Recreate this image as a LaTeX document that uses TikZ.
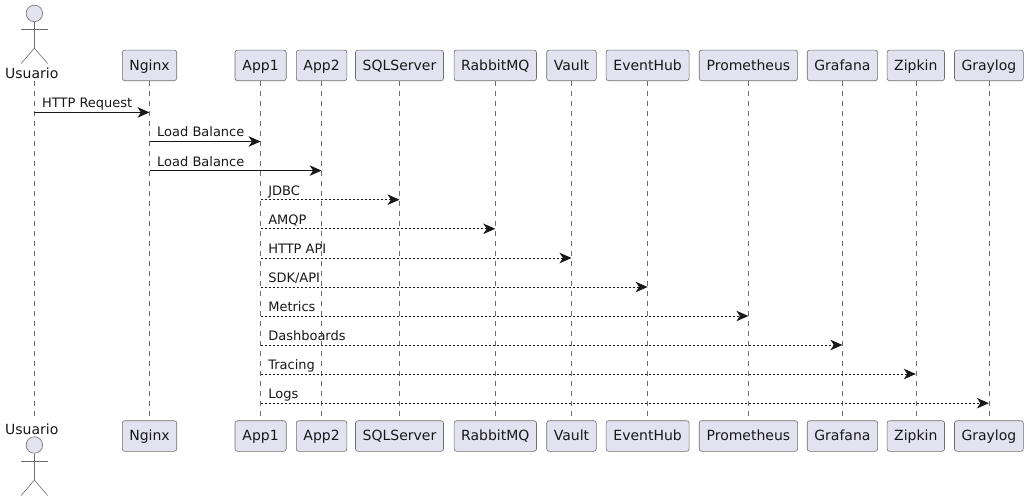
\documentclass[tikz,border=0pt]{standalone}
\usepackage{fontspec}
\setmainfont{DejaVu Sans}
\usetikzlibrary{arrows.meta}
\definecolor{boxfill}{HTML}{E2E2F0}
\definecolor{ink}{HTML}{181818}
\definecolor{thin}{HTML}{6E6E6E}
\tikzset{
  part/.style={draw=thin,line width=0.6pt,fill=boxfill,rounded corners=2.5pt,inner sep=0pt,
    minimum height=30.6pt,text height=12pt,text depth=2.8pt,font=\fontsize{14}{14}\selectfont,text=ink},
  actorlabel/.style={inner sep=0pt,anchor=base,font=\fontsize{14}{14}\selectfont,text=ink},
  actorline/.style={draw=thin,line width=0.6pt},
  lifeline/.style={draw=thin,line width=0.6pt,dash pattern=on 5pt off 5pt},
  syncmsg/.style={draw=ink,line width=1pt,-{Stealth[length=12pt,width=10.5pt,inset=3.5pt,color=ink]}},
  asyncmsg/.style={draw=ink,line width=1pt,dash pattern=on 2pt off 2pt,-{Stealth[length=12pt,width=10.5pt,inset=3.5pt,color=ink]}},
  msglabel/.style={inner sep=0pt,anchor=base west,font=\fontsize{13}{13}\selectfont,text=ink},
}
% #1 name, #2 centre x, #3 width, #4 text
\newcommand{\participantpair}[4]{%
  \node[part,minimum width=#3pt] (#1T) at (#2,65.4) {#4};
  \node[part,minimum width=#3pt] (#1B) at (#2,436) {#4};
  \draw[lifeline] (#1T.south) -- (#1B.north);
}
% #1 row, #2 y, #3 from, #4 to, #5 style, #6 text, #7 baseline
\newcommand{\seqmsg}[7]{%
  \coordinate (row#1) at (0,#2);
  \coordinate (lab#1) at (0,#7);
  \draw[#5] (#3T |- row#1) -- (#4T |- row#1);
  \node[msglabel,xshift=7.5pt] (msg#1) at (#3T |- lab#1) {#6};
}
\newcommand{\stickman}[5]{% #1 prefix #2 head y #3 arm y #4 hip y #5 foot y
  \node[circle,draw=thin,line width=0.6pt,fill=boxfill,minimum size=16.5pt,inner sep=0pt] (#1head) at (34.4,#2) {};
  \coordinate (#1hip) at (34.4,#4);
  \coordinate (#1armL) at (21.2,#3);
  \coordinate (#1armR) at (47.6,#3);
  \coordinate (#1footL) at (21.2,#5);
  \coordinate (#1footR) at (47.6,#5);
  \draw[actorline] (#1head.south) -- (#1hip);
  \draw[actorline] (#1armL) -- (#1armR);
  \draw[actorline] (#1footL) -- (#1hip) -- (#1footR);
}
\begin{document}
\begin{tikzpicture}[x=1pt,y=-1pt]
\useasboundingbox (0,0) rectangle (1028,501);
\stickman{top}{13.4}{29.2}{48.2}{63.5}
\stickman{bot}{445}{461.2}{480}{495.5}
\node[actorlabel] (usuarioL) at (31.8,78) {Usuario};
\node[actorlabel] (usuarioM) at (31.8,434) {Usuario};
\coordinate (usuarioT) at (34.4,81);
\coordinate (usuarioB) at (34.4,420);
\draw[lifeline] (usuarioT) -- (usuarioB);
\participantpair{nginx}{149.5}{54.4}{Nginx}
\participantpair{appa}{260.6}{51.2}{App1}
\participantpair{appb}{321.6}{50.6}{App2}
\participantpair{sql}{399.5}{88}{SQLServer}
\participantpair{rabbit}{495.3}{82.4}{RabbitMQ}
\participantpair{vault}{571.5}{49.6}{Vault}
\participantpair{hub}{647.6}{83}{EventHub}
\participantpair{prom}{748.4}{98.4}{Prometheus}
\participantpair{graf}{842.4}{70.4}{Grafana}
\participantpair{zip}{915.8}{57.4}{Zipkin}
\participantpair{gray}{988.9}{68.8}{Graylog}
\seqmsg{1}{112.4}{usuario}{nginx}{syncmsg}{HTTP Request}{107}
\seqmsg{2}{141.5}{nginx}{appa}{syncmsg}{Load Balance}{136}
\seqmsg{3}{170.6}{nginx}{appb}{syncmsg}{Load Balance}{166}
\seqmsg{4}{199.7}{appa}{sql}{asyncmsg}{JDBC}{195}
\seqmsg{5}{228.8}{appa}{rabbit}{asyncmsg}{AMQP}{224}
\seqmsg{6}{258}{appa}{vault}{asyncmsg}{HTTP API}{253}
\seqmsg{7}{287}{appa}{hub}{asyncmsg}{SDK/API}{282}
\seqmsg{8}{316}{appa}{prom}{asyncmsg}{Metrics}{311}
\seqmsg{9}{345}{appa}{graf}{asyncmsg}{Dashboards}{340}
\seqmsg{10}{374}{appa}{zip}{asyncmsg}{Tracing}{369}
\seqmsg{11}{403.2}{appa}{gray}{asyncmsg}{Logs}{398}
\end{tikzpicture}
\end{document}
